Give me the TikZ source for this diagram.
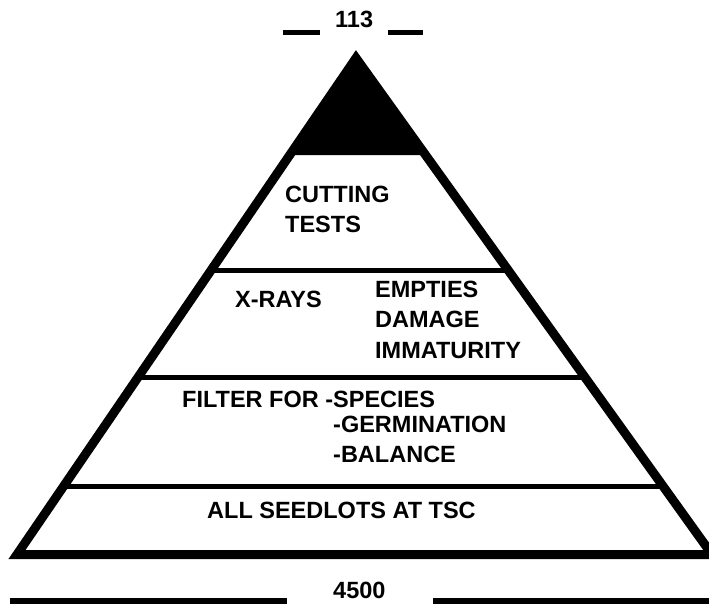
\documentclass[tikz,border=0pt]{standalone}
\usepackage{fontspec}
\newfontfamily\pyrfont{Liberation Sans}
\usetikzlibrary{calc}

\begin{document}
\begin{tikzpicture}[x=1pt, y=-1pt, line join=miter,
	lbl/.style={anchor=base west, inner sep=0pt, font=\pyrfont\bfseries\fontsize{23.5}{24}\selectfont},
	sep/.style={line width=5pt},
	side/.style={line width=9pt},
	dim/.style={line width=5.5pt}]
	\useasboundingbox (0,0) rectangle (709,604);
	\coordinate (T) at (356,58);
	\coordinate (L) at (17,554.5);
	\coordinate (R) at (712,554.5);
%
	\coordinate (c1) at ($(T)!0.1954!(L)$);
	\coordinate (c2) at ($(T)!0.1954!(R)$);
	\coordinate (s1l) at ($(T)!0.4270!(L)$);
	\coordinate (s1r) at ($(T)!0.4270!(R)$);
	\coordinate (s2l) at ($(T)!0.6445!(L)$);
	\coordinate (s2r) at ($(T)!0.6445!(R)$);
	\coordinate (s3l) at ($(T)!0.8640!(L)$);
	\coordinate (s3r) at ($(T)!0.8640!(R)$);
%
	\fill (c1) -- (T) -- (c2) -- cycle;
	\draw[sep] (s1l) -- (s1r);
	\draw[sep] (s2l) -- (s2r);
	\draw[sep] (s3l) -- (s3r);
	\draw[side] (T) -- (L) -- (R) -- cycle;
%
	\node[lbl] (cut) at (285,202) {CUTTING};
	\node[lbl] (tests) at (285,232) {TESTS};
	\node[lbl] (xray) at (235,307) {X-RAYS};
	\node[lbl] (empt) at (375,297) {EMPTIES};
	\node[lbl] (dmg) at (375,327) {DAMAGE};
	\node[lbl] (imm) at (375,358) {IMMATURITY};
	\node[lbl] (filt) at (182,407) {FILTER FOR -SPECIES};
	\node[lbl] (germ) at (333,432) {-GERMINATION};
	\node[lbl] (bal) at (333,462) {-BALANCE};
	\node[lbl] (all) at (207,518) {ALL SEEDLOTS AT TSC};
%
	\node[lbl] (top) at (335,28) {113};
	\node[lbl] (bot) at (333,598) {4500};
	\coordinate (t1) at (283,32.5);
	\coordinate (t2) at (320,32.5);
	\coordinate (t3) at (388,32.5);
	\coordinate (t4) at (423,32.5);
	\coordinate (b1) at (10,601);
	\coordinate (b2) at (287,601);
	\coordinate (b3) at (433,601);
	\coordinate (b4) at (709,601);
	\draw[dim] (t1) -- (t2);
	\draw[dim] (t3) -- (t4);
	\draw[dim] (b1) -- (b2);
	\draw[dim] (b3) -- (b4);
\end{tikzpicture}
\end{document}
